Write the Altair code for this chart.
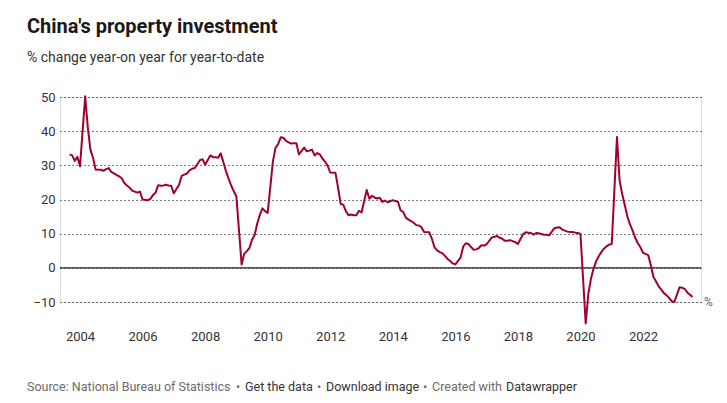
import altair as alt
import pandas as pd

TITLE = "China's property investment"
SUBTITLE = "% change year-on year for year-to-date"

# year-to-date % change, Feb..Dec each year (2003 from Aug, 2023 to Jul)
v2003 = [33.2, 32.9, 31.3, 32.5, 29.7]
v2004 = [50.2, 41.1, 34.6, 32.2, 28.8, 28.7, 28.7, 28.4, 28.9, 29.2, 28.1]
v2005 = [27.2, 26.8, 26.2, 24.8, 24.1, 23.5, 22.6, 22.3, 22.0, 22.3, 20.0]
v2006 = [19.8, 20.2, 21.3, 22.0, 24.2, 24.0, 24.1, 24.3, 24.1, 24.0, 21.8]
v2007 = [24.3, 26.9, 27.3, 27.6, 28.5, 29.0, 29.2, 30.3, 31.5, 31.8, 30.2]
v2008 = [32.9, 32.4, 32.4, 32.2, 33.5, 30.9, 28.3, 26.1, 24.1, 22.4, 20.9]
v2009 = [1.0, 4.1, 4.9, 5.8, 8.2, 9.6, 13.0, 15.5, 17.4, 16.6, 16.1]
v2010 = [31.1, 35.1, 36.2, 38.2, 38.1, 37.2, 36.7, 36.4, 36.5, 36.5, 33.2]
v2011 = [35.2, 34.1, 34.3, 34.6, 32.9, 33.6, 33.2, 32.0, 31.1, 29.9, 27.9]
v2012 = [27.8, 23.5, 18.7, 18.5, 16.6, 15.4, 15.6, 15.4, 15.4, 16.7, 16.2]
v2013 = [22.8, 20.2, 21.1, 20.6, 20.3, 20.5, 19.3, 19.7, 19.2, 19.5, 19.8]
v2014 = [19.3, 16.8, 16.4, 14.7, 14.1, 13.7, 13.2, 12.5, 12.4, 11.9, 10.5]
v2015 = [10.4, 8.5, 6.0, 5.1, 4.6, 4.3, 3.5, 2.6, 2.0, 1.3, 1.0]
v2016 = [3.0, 6.2, 7.2, 7.0, 6.1, 5.3, 5.4, 5.8, 6.6, 6.5, 6.9]
v2017 = [8.9, 9.1, 9.3, 8.8, 8.5, 7.9, 7.9, 8.1, 7.8, 7.5, 7.0]
v2018 = [9.9, 10.4, 10.3, 10.2, 9.7, 10.2, 10.1, 9.9, 9.7, 9.7, 9.5]
v2019 = [11.6, 11.8, 11.9, 11.2, 10.9, 10.6, 10.5, 10.5, 10.3, 10.2, 9.9]
v2020 = [-16.3, -7.7, -3.3, -0.3, 1.9, 3.4, 4.6, 5.6, 6.3, 6.8, 7.0]
v2021 = [38.3, 25.6, 21.6, 18.3, 15.0, 12.7, 10.9, 8.8, 7.2, 6.0, 4.4]
v2022 = [3.7, 0.7, -2.7, -4.0, -5.4, -6.4, -7.4, -8.0, -8.8, -9.8, -10.0]
v2023 = [-5.7, -5.8, -6.2, -7.2, -7.9, -8.5]

series = {
    2003: v2003, 2004: v2004, 2005: v2005, 2006: v2006, 2007: v2007,
    2008: v2008, 2009: v2009, 2010: v2010, 2011: v2011, 2012: v2012,
    2013: v2013, 2014: v2014, 2015: v2015, 2016: v2016, 2017: v2017,
    2018: v2018, 2019: v2019, 2020: v2020, 2021: v2021, 2022: v2022,
    2023: v2023,
}
first_month = {2003: 8}

x_ticks = [2004, 2006, 2008, 2010, 2012, 2014, 2016, 2018, 2020, 2022]
y_ticks = [-10, 0, 10, 20, 30, 40, 50]

footer_parts = [
    ("Source: National Bureau of Statistics", "#6b6b6b"),
    ("\u2022", "#6b6b6b"),
    ("Get the data", "#333333"),
    ("\u2022", "#6b6b6b"),
    ("Download image", "#333333"),
    ("\u2022", "#6b6b6b"),
    ("Created with", "#6b6b6b"),
    ("Datawrapper", "#333333"),
]
footer_x = [-33, 176, 185, 257, 266, 363, 372, 446]

rows = []
for yr, vals in series.items():
    m0 = first_month.get(yr, 2)
    for i, v in enumerate(vals):
        m = m0 + i
        rows.append({"t": yr + m / 12.0, "v": v})
df = pd.DataFrame(rows)

W, H = 641, 205
RED = "#a0022b"
FONT = "Roboto"

xscale = alt.Scale(domain=[2003.361, 2023.853], nice=False, zero=False)
yscale = alt.Scale(domain=[-10, 50], nice=False, zero=False)

line = alt.Chart(df).mark_line(color=RED, strokeWidth=2, strokeJoin="round").encode(
    x=alt.X("t:Q", scale=xscale,
            axis=alt.Axis(values=x_ticks, tickCount=20, format="d", grid=False, domain=False,
                          ticks=False, tickSize=0, labelPadding=28, labelFontSize=13,
                          labelColor="#333333", labelFont=FONT, title=None)),
    y=alt.Y("v:Q", scale=yscale,
            axis=alt.Axis(values=y_ticks, tickCount=10, labelOverlap=False, grid=True,
                          gridDash=[1, 3], gridColor="#000000",
                          gridWidth=1, domain=False, ticks=False, tickSize=0,
                          labelPadding=5, labelFontSize=13, labelColor="#333333",
                          labelFont=FONT, title=None)),
)

zero = alt.Chart(pd.DataFrame({"v": [0]})).mark_rule(color="#222222", strokeWidth=1.2).encode(
    y=alt.Y("v:Q", scale=yscale)
)

pct = alt.Chart(pd.DataFrame({"v": [-10], "label": ["%"]})).mark_text(
    align="left", baseline="middle", fontSize=12, color="#666666", font=FONT
).encode(x=alt.value(W + 3), y=alt.Y("v:Q", scale=yscale), text="label:N")

layers = [zero, line, pct]
for (txt, col), px in zip(footer_parts, footer_x):
    layers.append(
        alt.Chart(pd.DataFrame({"label": [txt]})).mark_text(
            align="left", baseline="alphabetic", fontSize=12.5, color=col, font=FONT
        ).encode(x=alt.value(px), y=alt.value(294), text="label:N")
    )

chart = alt.layer(*layers).properties(
    width=W, height=H,
    title=alt.TitleParams(
        text=TITLE, subtitle=SUBTITLE, anchor="start", frame="group", dx=-33,
        offset=26, font=FONT, fontSize=20, fontWeight="bold", color="#1a1a1a",
        subtitleFont=FONT, subtitleFontSize=14, subtitleColor="#333333",
        subtitlePadding=14,
    ),
    autosize=alt.AutoSizeParams(type="none"),
    padding={"left": 52, "top": 89, "right": 18, "bottom": 93},
).configure_view(stroke=None).configure(font=FONT, background="white")

chart.save("out.html", embed_options={"renderer": "svg", "actions": False})
